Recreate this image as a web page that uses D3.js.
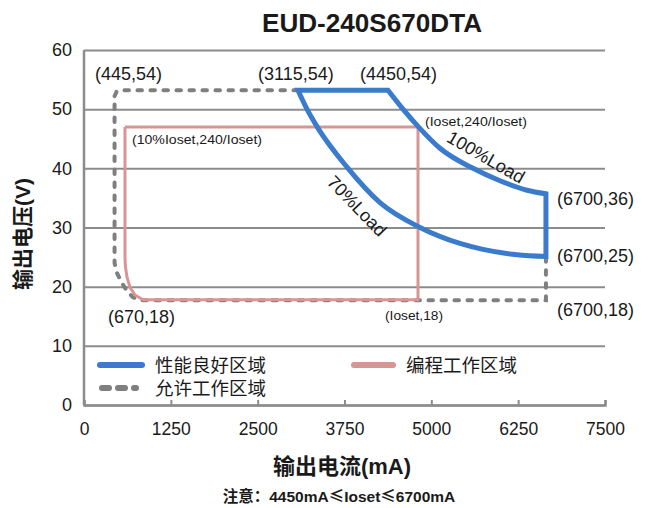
<!DOCTYPE html>
<html>
<head>
<meta charset="utf-8">
<script src="https://cdn.jsdelivr.net/npm/d3@7"></script>
<style>
  body { margin: 0; background: #fff; }
  text { font-family: "Liberation Sans", Arial, "Noto Sans CJK SC", sans-serif; fill: #1a1a1a; }
  .cjk { font-family: "Liberation Sans", "Noto Sans CJK SC", sans-serif; }
</style>
</head>
<body>
<div id="chart"></div>
<script>
// values (mA, V)
const xTicks = [0, 1250, 2500, 3750, 5000, 6250, 7500];
const yTicks = [0, 10, 20, 30, 40, 50, 60];

const topEdge = [[3080, 53.2], [4376, 53.2]];
const load100 = [[4376, 53.2], [4592, 50.0], [4808, 47.1], [5124, 43.4], [5600, 40.0],
                 [5988, 37.9], [6377, 36.3], [6650, 35.7]];
const rightEdge = [[6650, 35.7], [6650, 25.1]];
const load70 = [[3080, 53.2], [3210, 50.0], [3368, 46.8], [3786, 40.2], [4261, 34.2],
                [4837, 30.0], [5412, 27.3], [5743, 26.3], [6233, 25.4], [6650, 25.1]];

const allowed = [[3080, 53.2], [560, 53.2], [470, 53.0], [440, 52.2], [440, 28.4], [440, 24.0],
                 [475, 22.3], [547, 20.6], [619, 19.3], [705, 18.2], [835, 17.7],
                 [6650, 17.7], [6650, 25.1]];
const program = [[590, 47.0], [4808, 47.0], [4808, 17.8], [849, 17.8], [734, 18.6],
                 [662, 19.9], [619, 21.6], [595, 23.5], [590, 25.0], [590, 47.0]];

const legendNames = ["性能良好区域", "编程工作区域", "允许工作区域"];
const pointLabels = ["(445,54)", "(3115,54)", "(4450,54)", "(6700,36)", "(6700,25)", "(6700,18)", "(670,18)"];
const setLabels = ["(Ioset,240/Ioset)", "(10%Ioset,240/Ioset)", "(Ioset,18)"];
const loadLabels = ["100%Load", "70%Load"];

const W = 648, H = 508;
const margin = {top: 50, right: 43, bottom: 103, left: 84},
  width = W - margin.left - margin.right,
  height = H - margin.top - margin.bottom;

const blue = "#3b7bcc", pink = "#d99594", gray = "#7f7f7f", grid = "#8c8c8c";

const root = d3.select("#chart").append("svg")
  .attr("width", W).attr("height", H);

root.append("text")
  .attr("x", 372).attr("y", 32)
  .attr("text-anchor", "middle")
  .style("font-size", "25px").style("font-weight", "bold")
  .attr("textLength", 220).attr("lengthAdjust", "spacingAndGlyphs")
  .text("EUD-240S670DTA");

const svg = root.append("g")
  .attr("transform", `translate(${margin.left},${margin.top})`);

const x = d3.scaleLinear().domain([0, 7500]).range([0, width]);
const y = d3.scaleLinear().domain([0, 60]).range([height, 0]);

// grid + y labels
const yAxis = svg.append("g")
  .call(d3.axisLeft(y).tickValues(yTicks).tickSize(-width).tickPadding(12));
yAxis.select(".domain").remove();
yAxis.selectAll(".tick line").attr("stroke", grid).attr("stroke-width", 2);
yAxis.selectAll(".tick text").style("font-size", "18px").attr("fill", "#1a1a1a");

svg.append("line")
  .attr("x1", 0).attr("x2", 0).attr("y1", 0).attr("y2", height)
  .attr("stroke", grid).attr("stroke-width", 2.5);

const xAxis = svg.append("g")
  .attr("transform", `translate(0,${height})`)
  .call(d3.axisBottom(x).tickValues(xTicks).tickFormat(d3.format("d"))
    .tickSize(-5).tickSizeOuter(-5).tickPadding(18));
xAxis.select(".domain").attr("stroke", grid).attr("stroke-width", 2.5);
xAxis.selectAll(".tick line").attr("stroke", grid).attr("stroke-width", 2);
xAxis.selectAll(".tick text").style("font-size", "17.5px").attr("fill", "#1a1a1a");

const line = d3.line().x(d => x(d[0])).y(d => y(d[1]));
const smooth = d3.line().x(d => x(d[0])).y(d => y(d[1])).curve(d3.curveMonotoneX);

// allowed region (dashed)
svg.append("path")
  .attr("d", line(allowed))
  .attr("fill", "none").attr("stroke", gray).attr("stroke-width", 4)
  .attr("stroke-dasharray", "4.5,8.5").attr("stroke-linecap", "round");

// programming region
svg.append("path")
  .attr("d", line(program))
  .attr("fill", "none").attr("stroke", pink).attr("stroke-width", 3);

// good performance region: top edge, 100% curve, right edge, 70% curve back
const bluePath = line(topEdge)
  + smooth(load100).replace(/^M/, "L")
  + line(rightEdge).replace(/^M/, "L")
  + smooth(load70.slice().reverse()).replace(/^M/, "L") + "Z";
svg.append("path")
  .attr("d", bluePath)
  .attr("fill", "none").attr("stroke", blue).attr("stroke-width", 5)
  .attr("stroke-linejoin", "miter");

// point labels
const pts = [[95, 79.5], [258, 79.5], [360, 79.5], [557, 204.5], [557, 261.5], [557, 316], [108, 323]];
pointLabels.forEach((t, i) => {
  root.append("text")
    .attr("x", pts[i][0]).attr("y", pts[i][1])
    .style("font-size", "18px").text(t);
});

const setPos = [[425, 125.5, 102], [132, 143.5, 130], [385, 320, 58]];
setLabels.forEach((t, i) => {
  root.append("text")
    .attr("x", setPos[i][0]).attr("y", setPos[i][1])
    .attr("textLength", setPos[i][2]).attr("lengthAdjust", "spacingAndGlyphs")
    .style("font-size", "13px").text(t);
});

const loadPos = [[486, 157, 30], [357, 206, 46]];
loadLabels.forEach((t, i) => {
  root.append("text")
    .attr("transform", `translate(${loadPos[i][0]},${loadPos[i][1]}) rotate(${loadPos[i][2]})`)
    .attr("text-anchor", "middle").attr("dy", "0.35em")
    .style("font-size", "18px").text(t);
});

// legend
const legend = [
  {name: legendNames[0], color: blue, dash: null, x: 97, y: 365, len: 48, w: 6},
  {name: legendNames[1], color: pink, dash: null, x: 351, y: 365, len: 45, w: 6},
  {name: legendNames[2], color: gray, dash: "7,9", x: 99, y: 388, len: 40, w: 6}
];
legend.forEach(d => {
  root.append("line")
    .attr("x1", d.x + 3).attr("x2", d.x + d.len - 3).attr("y1", d.y).attr("y2", d.y)
    .attr("stroke", d.color).attr("stroke-width", d.w).attr("stroke-linecap", "round")
    .attr("stroke-dasharray", d.dash);
  root.append("text")
    .attr("class", "cjk")
    .attr("x", d.x + (d.dash ? 56 : d.len + 10)).attr("y", d.y).attr("dy", "0.36em")
    .style("font-size", "18.5px").text(d.name);
});

// axis titles
root.append("text")
  .attr("class", "cjk")
  .attr("x", 342).attr("y", 474)
  .attr("text-anchor", "middle")
  .style("font-size", "22px").style("font-weight", "bold")
  .text("输出电流(mA)");

root.append("text")
  .attr("class", "cjk")
  .attr("transform", "translate(22,234) rotate(-90)")
  .attr("text-anchor", "middle").attr("dy", "0.36em")
  .style("font-size", "21px").style("font-weight", "bold")
  .text("输出电压(V)");

const note = root.append("text")
  .attr("class", "cjk")
  .attr("x", 339).attr("y", 502)
  .attr("text-anchor", "middle")
  .style("font-size", "15.5px").style("font-weight", "bold");
note.append("tspan").text("注意：4450mA");
note.append("tspan").style("font-family", "'Noto Sans CJK SC'").text("≤");
note.append("tspan").text("Ioset");
note.append("tspan").style("font-family", "'Noto Sans CJK SC'").text("≤");
note.append("tspan").text("6700mA");
</script>
</body>
</html>
